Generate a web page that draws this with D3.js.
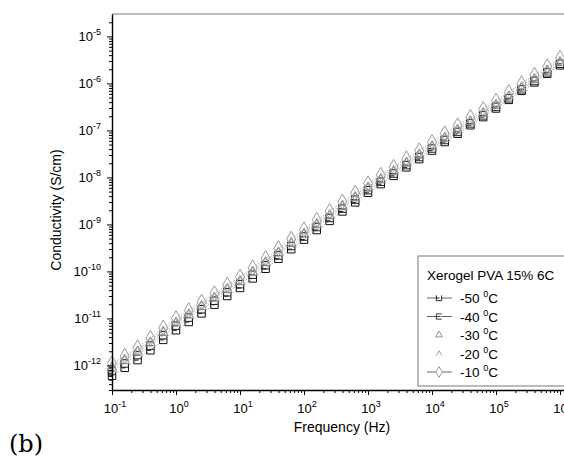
<!DOCTYPE html>
<html>
<head>
<meta charset="utf-8">
<script src="https://cdn.jsdelivr.net/npm/d3@7"></script>
<style>
  body { margin: 0; background: #fff; }
  text { font-family: Arial, "Liberation Sans", sans-serif; fill: #000; }
</style>
</head>
<body>
<div id="chart"></div>
<script>
// frequencies (Hz), 5 points per decade
var freq = [0.1, 0.158, 0.251, 0.398, 0.631, 1, 1.58, 2.51, 3.98, 6.31,
            10, 15.8, 25.1, 39.8, 63.1, 100, 158, 251, 398, 631,
            1e3, 1580, 2510, 3980, 6310, 1e4, 15800, 25100, 39800, 63100,
            1e5, 158000, 251000, 398000, 631000, 1e6];

// conductivity (S/cm) per temperature
var sigM50 = [6.0e-13, 8.9e-13, 1.30e-12, 2.10e-12, 3.50e-12, 5.6e-12, 8.4e-12, 1.28e-11, 1.96e-11, 3.00e-11,
              4.45e-11, 7.1e-11, 1.14e-10, 1.86e-10, 2.97e-10, 4.75e-10, 7.6e-10, 1.19e-9, 1.89e-9, 2.95e-9,
              4.70e-9, 7.2e-9, 1.08e-8, 1.64e-8, 2.45e-8, 3.72e-8, 5.66e-8, 8.5e-8, 1.29e-7, 1.92e-7,
              2.93e-7, 4.47e-7, 6.95e-7, 1.05e-6, 1.60e-6, 2.43e-6];
var sigM40 = [7.6e-13, 1.10e-12, 1.66e-12, 2.64e-12, 4.40e-12, 7.0e-12, 1.04e-11, 1.57e-11, 2.38e-11, 3.60e-11,
              5.35e-11, 8.5e-11, 1.35e-10, 2.19e-10, 3.48e-10, 5.52e-10, 8.8e-10, 1.37e-9, 2.17e-9, 3.37e-9,
              5.35e-9, 8.1e-9, 1.21e-8, 1.83e-8, 2.72e-8, 4.12e-8, 6.25e-8, 9.3e-8, 1.41e-7, 2.09e-7,
              3.17e-7, 4.82e-7, 7.5e-7, 1.13e-6, 1.72e-6, 2.62e-6];
var sigM30 = [8.7e-13, 1.25e-12, 1.90e-12, 3.00e-12, 4.95e-12, 7.9e-12, 1.17e-11, 1.77e-11, 2.68e-11, 4.05e-11,
              6.00e-11, 9.5e-11, 1.51e-10, 2.44e-10, 3.87e-10, 6.13e-10, 9.7e-10, 1.51e-9, 2.39e-9, 3.70e-9,
              5.85e-9, 8.85e-9, 1.31e-8, 1.98e-8, 2.94e-8, 4.44e-8, 6.72e-8, 1.00e-7, 1.51e-7, 2.23e-7,
              3.37e-7, 5.10e-7, 7.90e-7, 1.19e-6, 1.81e-6, 2.74e-6];
var sigM20 = [1.00e-12, 1.42e-12, 2.15e-12, 3.35e-12, 5.60e-12, 8.80e-12, 1.32e-11, 2.00e-11, 3.00e-11, 4.55e-11,
              6.80e-11, 1.07e-10, 1.70e-10, 2.75e-10, 4.35e-10, 6.90e-10, 1.10e-9, 1.70e-9, 2.70e-9, 4.15e-9,
              6.60e-9, 1.00e-8, 1.48e-8, 2.24e-8, 3.31e-8, 5.00e-8, 7.60e-8, 1.12e-7, 1.70e-7, 2.52e-7,
              3.80e-7, 5.75e-7, 8.90e-7, 1.35e-6, 2.04e-6, 3.10e-6];
var sigM10 = [1.10e-12, 1.58e-12, 2.40e-12, 3.80e-12, 6.31e-12, 1.00e-11, 1.48e-11, 2.24e-11, 3.39e-11, 5.13e-11,
              7.59e-11, 1.20e-10, 1.91e-10, 3.09e-10, 4.90e-10, 7.76e-10, 1.23e-9, 1.91e-9, 3.02e-9, 4.68e-9,
              7.41e-9, 1.12e-8, 1.66e-8, 2.51e-8, 3.72e-8, 5.62e-8, 8.51e-8, 1.26e-7, 1.91e-7, 2.82e-7,
              4.27e-7, 6.46e-7, 1.00e-6, 1.51e-6, 2.29e-6, 3.47e-6];

var temps = ["-50", "-40", "-30", "-20", "-10"];
var legendTitle = "Xerogel PVA 15% 6C";
var xMajor = [-1, 0, 1, 2, 3, 4, 5, 6];            // exponents of labelled x ticks
var yMajor = [-12, -11, -10, -9, -8, -7, -6, -5];  // exponents of labelled y ticks

var W = 564, H = 461;
var svg = d3.select("#chart").append("svg")
    .attr("width", W)
    .attr("height", H);

// scales
var x = d3.scaleLog().domain([0.1, 2e6]).range([112, 579.3]);
var y = d3.scaleLog().domain([3e-13, 3e-5]).range([390, 14]);

// custom marker shapes
var shapeL = { draw: function(c, s) { var r = Math.sqrt(s) / 2;
    c.moveTo(-r, -r); c.lineTo(-r, r); c.lineTo(r, r); c.lineTo(r, -r); c.moveTo(-r, 0); c.lineTo(r * 0.2, 0); } };
var shapeE = { draw: function(c, s) { var r = Math.sqrt(s) / 2;
    c.moveTo(r, -r); c.lineTo(-r, -r); c.lineTo(-r, r); c.lineTo(r, r); c.moveTo(-r, 0); c.lineTo(r * 0.6, 0); } };
var shapeCaret = { draw: function(c, s) { var r = Math.sqrt(s) / 2;
    c.moveTo(-r, r * 0.8); c.lineTo(0, -r); c.lineTo(r, r * 0.8); } };

var series = [
  { name: temps[0], vals: sigM50, type: shapeL, size: 56, color: "#111", line: true },
  { name: temps[1], vals: sigM40, type: shapeE, size: 56, color: "#222", line: true },
  { name: temps[2], vals: sigM30, type: d3.symbolTriangle, size: 40, color: "#888", line: false },
  { name: temps[3], vals: sigM20, type: shapeCaret, size: 64, color: "#999", line: false },
  { name: temps[4], vals: sigM10, type: d3.symbolDiamond, size: 70, color: "#999", line: true }
];

var plot = svg.append("g");

var lineGen = d3.line()
    .x(function(d) { return x(d[0]); })
    .y(function(d) { return y(d[1]); });

series.forEach(function(s) {
  var pts = freq.map(function(f, i) { return [f, s.vals[i]]; });
  plot.append("path")
      .datum(pts)
      .attr("fill", "none")
      .attr("stroke", "#888")
      .attr("stroke-width", 0.7)
      .attr("stroke-dasharray", "1.5,1.5")
      .attr("d", lineGen);
});

series.forEach(function(s) {
  var sym = d3.symbol().type(s.type).size(s.size);
  plot.selectAll(null)
      .data(freq.map(function(f, i) { return [f, s.vals[i]]; }))
      .enter().append("path")
      .attr("transform", function(d) { return "translate(" + x(d[0]) + "," + y(d[1]) + ")"; })
      .attr("d", sym)
      .attr("fill", "none")
      .attr("stroke", s.color)
      .attr("stroke-width", 1);
});

// frame top line
svg.append("line")
    .attr("x1", x.range()[0]).attr("x2", x.range()[1])
    .attr("y1", y.range()[1]).attr("y2", y.range()[1])
    .attr("stroke", "#777").attr("stroke-width", 1.2);

// minor tick values
function minors(dom) {
  var out = [];
  for (var e = -14; e <= 7; e++) {
    for (var k = 2; k <= 9; k++) {
      var v = k * Math.pow(10, e);
      if (v >= dom[0] && v <= dom[1]) out.push(v);
    }
  }
  return out;
}

// x axis
var xg = svg.append("g").attr("transform", "translate(0," + y.range()[0] + ")");
xg.call(d3.axisBottom(x).tickValues(xMajor.map(function(e) { return Math.pow(10, e); }))
    .tickSize(5).tickSizeOuter(0).tickFormat(""));
xg.append("g").call(d3.axisBottom(x).tickValues(minors(x.domain())).tickSize(3).tickSizeOuter(0).tickFormat(""))
    .select(".domain").remove();
xg.selectAll("path.domain").attr("stroke", "#000").attr("stroke-width", 1.4);
xg.selectAll("line").attr("stroke", "#000");

// y axis
var yg = svg.append("g").attr("transform", "translate(" + x.range()[0] + ",0)");
yg.call(d3.axisLeft(y).tickValues(yMajor.map(function(e) { return Math.pow(10, e); }))
    .tickSize(5).tickSizeOuter(0).tickFormat(""));
yg.append("g").call(d3.axisLeft(y).tickValues(minors(y.domain())).tickSize(3).tickSizeOuter(0).tickFormat(""))
    .select(".domain").remove();
yg.selectAll("path.domain").attr("stroke", "#000").attr("stroke-width", 1.4);
yg.selectAll("line").attr("stroke", "#000");

// power-of-ten tick labels
function powLabel(sel, e) {
  sel.append("tspan").text("10");
  sel.append("tspan").attr("dy", -6).attr("font-size", 9).text(e);
}

xMajor.forEach(function(e) {
  var t = svg.append("text")
      .attr("x", x(Math.pow(10, e)) + 3)
      .attr("y", 413)
      .attr("text-anchor", "middle")
      .attr("font-size", 13);
  powLabel(t, e);
});

yMajor.forEach(function(e) {
  var t = svg.append("text")
      .attr("x", 101)
      .attr("y", y(Math.pow(10, e)) + 5)
      .attr("text-anchor", "end")
      .attr("font-size", 13);
  powLabel(t, e);
});

// axis titles
svg.append("text")
    .attr("x", 342).attr("y", 432)
    .attr("text-anchor", "middle")
    .attr("font-size", 14)
    .text("Frequency (Hz)");

svg.append("text")
    .attr("transform", "translate(61,210) rotate(-90)")
    .attr("text-anchor", "middle")
    .attr("font-size", 14)
    .text("Conductivity (S/cm)");

// panel label
svg.append("text")
    .attr("x", 9).attr("y", 452)
    .style("font-family", "'DejaVu Serif', 'Liberation Serif', serif")
    .attr("font-size", 24)
    .text("(b)");

// legend
var lg = svg.append("g");
lg.append("rect")
    .attr("x", 418).attr("y", 256)
    .attr("width", 160).attr("height", 130)
    .attr("fill", "#fff")
    .attr("stroke", "#777").attr("stroke-width", 1);
lg.append("text")
    .attr("x", 427).attr("y", 280)
    .attr("font-size", 13.5)
    .text(legendTitle);

series.forEach(function(s, i) {
  var cy = 298 + i * 18.5;
  if (s.line) {
    lg.append("line")
        .attr("x1", 427).attr("x2", 452)
        .attr("y1", cy).attr("y2", cy)
        .attr("stroke", "#555").attr("stroke-width", 0.9);
  }
  lg.append("path")
      .attr("transform", "translate(439," + cy + ")")
      .attr("d", d3.symbol().type(s.type).size(s.size * 0.5))
      .attr("fill", s.line ? "#fff" : "none")
      .attr("stroke", s.color)
      .attr("stroke-width", 0.9);
  var t = lg.append("text")
      .attr("x", 460).attr("y", cy + 5)
      .attr("font-size", 13.5);
  t.append("tspan").text(s.name + " ");
  t.append("tspan").attr("dy", -6).attr("font-size", 9).text("0");
  t.append("tspan").attr("dy", 6).text("C");
});
</script>
</body>
</html>
